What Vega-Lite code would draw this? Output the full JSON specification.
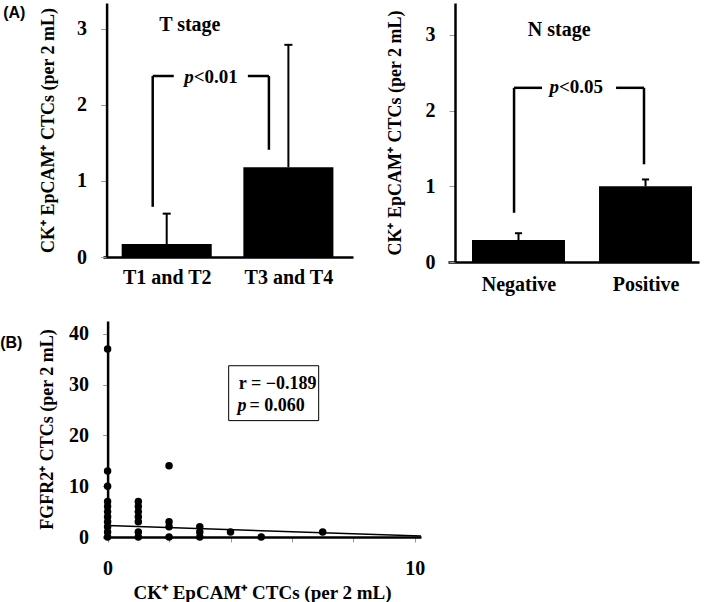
{
  "$schema": "https://vega.github.io/schema/vega-lite/v6.json",
  "padding": {"left": 0, "top": 3, "right": 5, "bottom": 0},
  "background": "white",
  "config": {
    "view": {"stroke": null},
    "font": "Liberation Serif",
    "axis": {
      "grid": false,
      "domainColor": "black",
      "domainWidth": 2.5,
      "tickColor": "#999999",
      "tickWidth": 1,
      "labelFont": "Liberation Serif",
      "labelFontWeight": "bold",
      "labelFontSize": 20,
      "labelColor": "black",
      "labelOverlap": false,
      "titleFont": "Liberation Serif",
      "titleFontWeight": "bold",
      "titleFontSize": 18,
      "titleColor": "black"
    },
    "text": {"font": "Liberation Serif", "fontWeight": "bold", "color": "black"}
  },
  "datasets": {
    "tbars": [
      {"group": "T1 and T2", "pos": 1, "lo": 0.63, "hi": 1.37, "mean": 0.17, "upper": 0.57, "capL": 0.967, "capR": 1.033},
      {"group": "T3 and T4", "pos": 2, "lo": 1.63, "hi": 2.37, "mean": 1.18, "upper": 2.79, "capL": 1.967, "capR": 2.033}
    ],
    "tbracket": [
      {"x": 0.885, "x2": 0.885, "y": 0.66, "y2": 2.38},
      {"x": 0.885, "x2": 1.058, "y": 2.38, "y2": 2.38},
      {"x": 1.667, "x2": 1.84, "y": 2.38, "y2": 2.38},
      {"x": 1.84, "x2": 1.84, "y": 1.41, "y2": 2.38}
    ],
    "ttext": [
      {"x": 1.19, "y": 3.05, "label": "T stage", "role": "title"},
      {"x": 1.222, "y": 2.37, "label": "p", "role": "p"},
      {"x": 1.222, "y": 2.37, "label": "<0.01", "role": "value"}
    ],
    "nbars": [
      {"group": "Negative", "pos": 1, "lo": 0.634, "hi": 1.366, "mean": 0.29, "upper": 0.38, "capL": 0.972, "capR": 1.028},
      {"group": "Positive", "pos": 2, "lo": 1.634, "hi": 2.366, "mean": 1.0, "upper": 1.09, "capL": 1.972, "capR": 2.028}
    ],
    "nbracket": [
      {"x": 0.965, "x2": 0.965, "y": 0.65, "y2": 2.3},
      {"x": 0.965, "x2": 1.185, "y": 2.3, "y2": 2.3},
      {"x": 1.768, "x2": 1.988, "y": 2.3, "y2": 2.3},
      {"x": 1.988, "x2": 1.988, "y": 1.29, "y2": 2.3}
    ],
    "ntext": [
      {"x": 1.32, "y": 3.06, "label": "N stage", "role": "title"},
      {"x": 1.319, "y": 2.31, "label": "p", "role": "p"},
      {"x": 1.319, "y": 2.31, "label": "<0.05", "role": "value"}
    ],
    "points": [
      {"ck": 0, "fgfr2": 0}, {"ck": 0, "fgfr2": 1}, {"ck": 0, "fgfr2": 2}, {"ck": 0, "fgfr2": 3},
      {"ck": 0, "fgfr2": 4}, {"ck": 0, "fgfr2": 5}, {"ck": 0, "fgfr2": 6}, {"ck": 0, "fgfr2": 7},
      {"ck": 0, "fgfr2": 10}, {"ck": 0, "fgfr2": 13}, {"ck": 0, "fgfr2": 37},
      {"ck": 1, "fgfr2": 0}, {"ck": 1, "fgfr2": 1}, {"ck": 1, "fgfr2": 3}, {"ck": 1, "fgfr2": 4},
      {"ck": 1, "fgfr2": 5}, {"ck": 1, "fgfr2": 6}, {"ck": 1, "fgfr2": 7},
      {"ck": 2, "fgfr2": 0}, {"ck": 2, "fgfr2": 2}, {"ck": 2, "fgfr2": 3}, {"ck": 2, "fgfr2": 14},
      {"ck": 3, "fgfr2": 0}, {"ck": 3, "fgfr2": 1}, {"ck": 3, "fgfr2": 2},
      {"ck": 4, "fgfr2": 1}, {"ck": 5, "fgfr2": 0}, {"ck": 7, "fgfr2": 1}
    ],
    "trend": [
      {"ck": 0, "fgfr2": 2.25},
      {"ck": 10.2, "fgfr2": 0.2}
    ],
    "statbox": [
      {"x": 3.94, "x2": 6.87, "y": 22.9, "y2": 33.7}
    ],
    "stattext": [
      {"x": 4.27, "y": 30.1, "label": "r = −0.189", "role": "value"},
      {"x": 4.23, "y": 25.8, "label": "p", "role": "p"},
      {"x": 4.62, "y": 25.8, "label": "= 0.060", "role": "value"}
    ]
  },
  "vconcat": [
    {
      "hconcat": [
        {
          "width": 250,
          "height": 254,
          "title": {"text": "(A)", "orient": "left", "anchor": "end", "frame": "group", "angle": 0, "align": "right", "baseline": "top", "font": "Liberation Sans", "fontSize": 16, "fontWeight": "bold", "color": "black", "offset": -8, "dy": 2},
          "layer": [
            {
              "data": {"name": "tbars"},
              "mark": {"type": "rect", "color": "black"},
              "encoding": {
                "x": {"field": "lo", "type": "quantitative",
                  "scale": {"domain": [0.4765, 2.531], "nice": false, "zero": false},
                  "axis": {"title": null, "values": [1, 2], "labelExpr": "datum.value == 1 ? 'T1 and T2' : 'T3 and T4'", "ticks": false, "labelPadding": 10}},
                "x2": {"field": "hi"},
                "y": {"field": "mean", "type": "quantitative",
                  "scale": {"domain": [0, 3.34], "nice": false},
                  "axis": {"title": "CK⁺ EpCAM⁺ CTCs (per 2 mL)", "values": [0, 1, 2, 3], "format": "d", "tickSize": 6, "labelPadding": 14, "titlePadding": 19, "offset": -3.6}},
                "y2": {"datum": 0}
              }
            },
            {
              "data": {"name": "tbars"},
              "mark": {"type": "rule", "color": "black", "strokeWidth": 2},
              "encoding": {
                "x": {"field": "pos", "type": "quantitative"},
                "y": {"field": "mean", "type": "quantitative"},
                "y2": {"field": "upper"}
              }
            },
            {
              "data": {"name": "tbars"},
              "mark": {"type": "rule", "color": "black", "strokeWidth": 2},
              "encoding": {
                "x": {"field": "capL", "type": "quantitative"},
                "x2": {"field": "capR"},
                "y": {"field": "upper", "type": "quantitative"}
              }
            },
            {
              "data": {"name": "tbracket"},
              "mark": {"type": "rule", "color": "black", "strokeWidth": 2.5},
              "encoding": {
                "x": {"field": "x", "type": "quantitative"},
                "x2": {"field": "x2"},
                "y": {"field": "y", "type": "quantitative"},
                "y2": {"field": "y2"}
              }
            },
            {
              "data": {"name": "ttext"},
              "transform": [{"filter": "datum.role == 'title'"}],
              "mark": {"type": "text", "fontSize": 20, "baseline": "middle", "align": "center"},
              "encoding": {
                "x": {"field": "x", "type": "quantitative"},
                "y": {"field": "y", "type": "quantitative"},
                "text": {"field": "label"}
              }
            },
            {
              "data": {"name": "ttext"},
              "transform": [{"filter": "datum.role == 'p'"}],
              "mark": {"type": "text", "fontSize": 19, "baseline": "middle", "align": "right", "fontStyle": "italic"},
              "encoding": {
                "x": {"field": "x", "type": "quantitative"},
                "y": {"field": "y", "type": "quantitative"},
                "text": {"field": "label"}
              }
            },
            {
              "data": {"name": "ttext"},
              "transform": [{"filter": "datum.role == 'value'"}],
              "mark": {"type": "text", "fontSize": 19, "baseline": "middle", "align": "left"},
              "encoding": {
                "x": {"field": "x", "type": "quantitative"},
                "y": {"field": "y", "type": "quantitative"},
                "text": {"field": "label"}
              }
            }
          ]
        },
        {
          "width": 251,
          "height": 259,
          "layer": [
            {
              "data": {"name": "nbars"},
              "mark": {"type": "rect", "color": "black"},
              "encoding": {
                "x": {"field": "lo", "type": "quantitative",
                  "scale": {"domain": [0.445, 2.421], "nice": false, "zero": false},
                  "axis": {"title": null, "values": [1, 2], "labelExpr": "datum.value == 1 ? 'Negative' : 'Positive'", "ticks": false, "labelPadding": 12}},
                "x2": {"field": "hi"},
                "y": {"field": "mean", "type": "quantitative",
                  "scale": {"domain": [0, 3.42], "nice": false},
                  "axis": {"title": "CK⁺ EpCAM⁺ CTCs (per 2 mL)", "values": [0, 1, 2, 3], "format": "d", "tickSize": 6, "labelPadding": 14, "titlePadding": 21, "offset": -7}},
                "y2": {"datum": 0}
              }
            },
            {
              "data": {"name": "nbars"},
              "mark": {"type": "rule", "color": "black", "strokeWidth": 2},
              "encoding": {
                "x": {"field": "pos", "type": "quantitative"},
                "y": {"field": "mean", "type": "quantitative"},
                "y2": {"field": "upper"}
              }
            },
            {
              "data": {"name": "nbars"},
              "mark": {"type": "rule", "color": "black", "strokeWidth": 2},
              "encoding": {
                "x": {"field": "capL", "type": "quantitative"},
                "x2": {"field": "capR"},
                "y": {"field": "upper", "type": "quantitative"}
              }
            },
            {
              "data": {"name": "nbracket"},
              "mark": {"type": "rule", "color": "black", "strokeWidth": 2.5},
              "encoding": {
                "x": {"field": "x", "type": "quantitative"},
                "x2": {"field": "x2"},
                "y": {"field": "y", "type": "quantitative"},
                "y2": {"field": "y2"}
              }
            },
            {
              "data": {"name": "ntext"},
              "transform": [{"filter": "datum.role == 'title'"}],
              "mark": {"type": "text", "fontSize": 20, "baseline": "middle", "align": "center"},
              "encoding": {
                "x": {"field": "x", "type": "quantitative"},
                "y": {"field": "y", "type": "quantitative"},
                "text": {"field": "label"}
              }
            },
            {
              "data": {"name": "ntext"},
              "transform": [{"filter": "datum.role == 'p'"}],
              "mark": {"type": "text", "fontSize": 19, "baseline": "middle", "align": "right", "fontStyle": "italic"},
              "encoding": {
                "x": {"field": "x", "type": "quantitative"},
                "y": {"field": "y", "type": "quantitative"},
                "text": {"field": "label"}
              }
            },
            {
              "data": {"name": "ntext"},
              "transform": [{"filter": "datum.role == 'value'"}],
              "mark": {"type": "text", "fontSize": 19, "baseline": "middle", "align": "left"},
              "encoding": {
                "x": {"field": "x", "type": "quantitative"},
                "y": {"field": "y", "type": "quantitative"},
                "text": {"field": "label"}
              }
            }
          ]
        }
      ],
      "spacing": 32
    },
    {
      "width": 318,
      "height": 216,
      "title": {"text": "(B)", "orient": "left", "anchor": "end", "frame": "group", "angle": 0, "align": "right", "baseline": "top", "font": "Liberation Sans", "fontSize": 16, "fontWeight": "bold", "color": "black", "offset": -6, "dy": 14},
      "layer": [
        {
          "data": {"name": "trend"},
          "mark": {"type": "line", "color": "black", "strokeWidth": 1.5},
          "encoding": {
            "x": {"field": "ck", "type": "quantitative",
              "scale": {"domain": [-0.15, 10.2], "nice": false, "zero": false},
              "axis": {"title": "CK⁺ EpCAM⁺ CTCs (per 2 mL)", "values": [0, 1, 2, 3, 4, 5, 6, 7, 8, 9, 10], "labelExpr": "datum.value % 5 == 0 ? datum.label : ''", "tickSize": 5, "labelPadding": 16, "titlePadding": 5, "titleFontSize": 19}},
            "y": {"field": "fgfr2", "type": "quantitative",
              "scale": {"domain": [0, 42.5], "nice": false},
              "axis": {"title": "FGFR2⁺ CTCs  (per 2 mL)", "values": [0, 10, 20, 30, 40], "tickSize": 5, "labelPadding": 14, "titlePadding": 12, "offset": -4.6}}
          }
        },
        {
          "data": {"name": "points"},
          "mark": {"type": "circle", "color": "black", "opacity": 1, "size": 56},
          "encoding": {
            "x": {"field": "ck", "type": "quantitative"},
            "y": {"field": "fgfr2", "type": "quantitative"}
          }
        },
        {
          "data": {"name": "statbox"},
          "mark": {"type": "rect", "fill": "white", "stroke": "black", "strokeWidth": 1},
          "encoding": {
            "x": {"field": "x", "type": "quantitative"},
            "x2": {"field": "x2"},
            "y": {"field": "y", "type": "quantitative"},
            "y2": {"field": "y2"}
          }
        },
        {
          "data": {"name": "stattext"},
          "transform": [{"filter": "datum.role == 'value'"}],
          "mark": {"type": "text", "fontSize": 18, "baseline": "middle", "align": "left"},
          "encoding": {
            "x": {"field": "x", "type": "quantitative"},
            "y": {"field": "y", "type": "quantitative"},
            "text": {"field": "label"}
          }
        },
        {
          "data": {"name": "stattext"},
          "transform": [{"filter": "datum.role == 'p'"}],
          "mark": {"type": "text", "fontSize": 18, "baseline": "middle", "align": "left", "fontStyle": "italic"},
          "encoding": {
            "x": {"field": "x", "type": "quantitative"},
            "y": {"field": "y", "type": "quantitative"},
            "text": {"field": "label"}
          }
        }
      ]
    }
  ],
  "spacing": 27
}
